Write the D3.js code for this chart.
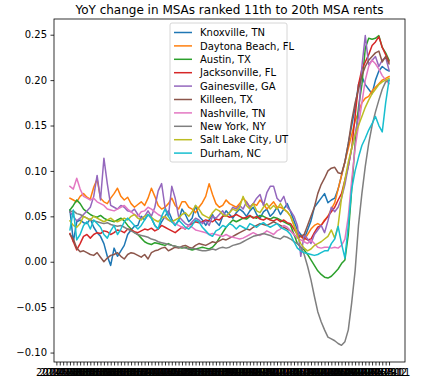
<!DOCTYPE html>
<html>
<head>
<meta charset="utf-8">
<script src="https://cdn.jsdelivr.net/npm/d3@7"></script>
<style>
  body { margin: 0; background: #fff; }
  text { font-family: "DejaVu Sans", sans-serif; }
</style>
</head>
<body>
<svg id="chart" width="431" height="389"></svg>
<script>
// month categories (first 12 have no YoY value)
var months = d3.timeMonth.range(new Date(2014, 2, 1), new Date(2023, 1, 1)).map(d3.timeFormat("%Y-%m"));
var firstData = 12;

var names = ["Knoxville, TN", "Daytona Beach, FL", "Austin, TX", "Jacksonville, FL", "Gainesville, GA",
  "Killeen, TX", "Nashville, TN", "New York, NY", "Salt Lake City, UT", "Durham, NC"];
var colors = ["#1f77b4", "#ff7f0e", "#2ca02c", "#d62728", "#9467bd", "#8c564b", "#e377c2", "#7f7f7f", "#bcbd22", "#17becf"];
var yTicks = [-0.10, -0.05, 0.00, 0.05, 0.10, 0.15, 0.20, 0.25];

var knoxville = [.057,.022,.044,.046,.043,.042,.047,.038,.032,.028,
  .020,.006,-.004,.015,.006,.012,.018,.030,.035,.039,
  .040,.050,.046,.052,.048,.040,.036,.044,.050,.056,
  .047,.040,.045,.058,.052,.044,.048,.062,.050,.046,
  .040,.046,.052,.044,.040,.050,.056,.052,.048,.054,
  .058,.055,.050,.056,.060,.052,.048,.055,.058,.050,
  .054,.060,.052,.058,.064,.055,.045,.035,
  .030,.025,.035,.045,.060,.065,.070,.075,.065,.068,
  .070,.080,.095,.110,.130,.150,.170,.195,.204,.195,
  .190,.185,.200,.210,.215,.212,.210];
var daytona = [.070,.068,.066,.072,.075,.071,.069,.082,.091,.070,
  .066,.064,.070,.075,.081,.072,.068,.071,.064,.060,
  .063,.066,.062,.070,.081,.072,.062,.058,.060,.064,
  .070,.062,.058,.066,.066,.060,.058,.054,.060,.065,
  .072,.086,.074,.064,.060,.062,.068,.064,.062,.060,
  .064,.070,.066,.060,.064,.062,.068,.064,.058,.062,
  .066,.060,.060,.058,.055,.050,.040,.031,
  .028,.024,.030,.036,.040,.042,.040,.046,.050,.058,
  .065,.080,.095,.110,.125,.140,.155,.165,.175,.180,
  .182,.188,.192,.196,.200,.202,.204];
var austin = [.057,.062,.068,.064,.058,.055,.052,.050,.049,.051,
  .048,.046,.045,.044,.046,.048,.045,.040,.036,.032,
  .030,.026,.022,.020,.019,.021,.020,.019,.018,.020,
  .018,.017,.016,.015,.016,.014,.013,.014,.015,.016,
  .015,.014,.016,.020,.026,.032,.038,.042,.046,.044,
  .046,.048,.047,.050,.049,.048,.051,.050,.048,.047,
  .049,.048,.046,.044,.042,.040,.030,.020,
  .016,.013,.008,.002,-.004,-.010,-.014,-.017,-.018,-.016,
  -.012,-.008,-.002,.002,.030,.080,.130,.170,.195,.235,
  .246,.245,.246,.249,.236,.230,.222];
var jacksonville = [.031,.022,.013,.020,.028,.030,.026,.030,.032,.031,
  .034,.033,.030,.032,.035,.034,.032,.036,.035,.033,
  .032,.034,.036,.035,.037,.034,.036,.040,.038,.036,
  .034,.032,.035,.038,.036,.040,.042,.044,.043,.044,
  .046,.045,.044,.047,.046,.050,.051,.049,.050,.052,
  .050,.048,.049,.051,.048,.050,.047,.046,.048,.046,
  .045,.047,.044,.046,.043,.042,.036,.030,
  .028,.026,.024,.025,.032,.038,.040,.045,.050,.055,
  .060,.068,.075,.090,.105,.125,.160,.195,.212,.220,
  .228,.238,.242,.248,.236,.228,.220];
var gainesville = [.055,.050,.045,.048,.052,.056,.060,.072,.095,.068,
  .114,.086,.062,.060,.058,.062,.060,.056,.055,.058,
  .052,.048,.050,.056,.050,.060,.078,.086,.060,.050,
  .083,.070,.050,.046,.042,.040,.044,.048,.046,.042,
  .045,.040,.050,.048,.052,.056,.050,.054,.060,.058,
  .062,.058,.066,.060,.064,.070,.074,.062,.076,.083,
  .083,.070,.066,.072,.060,.056,.050,.040,
  .006,.030,.025,.020,.030,.035,.040,.032,.045,.060,
  .055,.060,.070,.085,.105,.125,.140,.160,.215,.249,
  .217,.222,.226,.215,.222,.225,.211];
var killeen = [.030,.025,.015,.011,.012,.010,.008,.007,.010,.005,
  .000,.004,.007,.008,.010,.006,.003,.008,.010,.009,
  .007,.005,.008,.003,.010,.012,.013,.015,.016,.012,
  .014,.016,.015,.017,.018,.016,.015,.018,.020,.019,
  .018,.020,.022,.021,.023,.025,.024,.026,.028,.030,
  .032,.034,.036,.035,.038,.040,.042,.041,.040,.042,
  .044,.042,.040,.038,.036,.034,.030,.026,
  .028,.030,.040,.050,.060,.075,.085,.092,.100,.103,
  .104,.098,.097,.110,.130,.155,.175,.190,.205,.215,
  .222,.226,.230,.232,.220,.226,.218];
var nashville = [.083,.080,.092,.080,.072,.070,.068,.070,.066,.064,
  .062,.058,.057,.056,.058,.060,.062,.058,.055,.052,
  .050,.055,.056,.060,.058,.055,.052,.050,.048,.046,
  .044,.042,.040,.038,.036,.040,.038,.035,.034,.033,
  .032,.030,.031,.030,.029,.028,.030,.028,.027,.026,
  .025,.026,.028,.030,.032,.030,.029,.031,.034,.032,
  .030,.034,.036,.040,.038,.034,.030,.026,
  .024,.022,.020,.024,.020,.016,.015,.016,.016,.015,
  .016,.015,.018,.025,.050,.090,.125,.150,.175,.200,
  .215,.222,.218,.212,.205,.200,.196];
var newYork = [.055,.056,.053,.052,.050,.048,.046,.045,.044,.043,
  .042,.043,.041,.040,.039,.040,.038,.036,.034,.032,
  .030,.029,.028,.027,.025,.024,.022,.021,.020,.019,
  .018,.017,.016,.016,.015,.014,.015,.014,.013,.012,
  .012,.013,.014,.013,.015,.016,.015,.016,.018,.019,
  .020,.022,.024,.026,.028,.029,.030,.031,.030,.029,
  .027,.026,.025,.028,.027,.025,.022,.020,
  .016,.008,-.005,-.020,-.038,-.055,-.066,-.075,-.083,-.085,
  -.087,-.090,-.092,-.088,-.075,-.045,-.010,.040,.075,.105,
  .130,.150,.165,.178,.190,.198,.200];
var saltLake = [.045,.040,.038,.042,.050,.048,.046,.050,.048,.046,
  .044,.046,.048,.045,.044,.046,.048,.046,.050,.052,
  .048,.046,.050,.052,.049,.046,.044,.048,.050,.046,
  .044,.046,.048,.052,.054,.050,.055,.062,.058,.052,
  .050,.048,.054,.058,.056,.052,.050,.054,.058,.056,
  .060,.072,.062,.058,.064,.056,.054,.060,.064,.058,
  .062,.058,.064,.058,.055,.050,.040,.028,
  .020,.015,.012,.014,.018,.020,.022,.025,.028,.035,
  .026,.040,.070,.090,.110,.125,.140,.150,.160,.170,
  .178,.185,.190,.195,.198,.200,.202];
var durham = [.035,.057,.024,.030,.040,.044,.036,.046,.042,.038,
  .030,.026,.034,.040,.030,.036,.044,.048,.044,.040,
  .036,.040,.046,.052,.048,.040,.036,.050,.058,.050,
  .044,.040,.046,.042,.038,.036,.040,.046,.044,.038,
  .034,.030,.028,.034,.036,.040,.038,.042,.040,.036,
  .040,.038,.036,.042,.040,.038,.041,.043,.040,.038,
  .040,.042,.038,.036,.034,.030,.022,.015,
  .012,.010,.009,.008,.007,.008,.010,.012,.012,.020,
  .025,.039,.020,.004,.040,.080,.100,.115,.128,.136,
  .145,.152,.160,.150,.143,.175,.200];

var seriesValues = [knoxville, daytona, austin, jacksonville, gainesville,
  killeen, nashville, newYork, saltLake, durham];

var svg = d3.select("#chart"),
    margin = {top: 19, right: 26, bottom: 27, left: 54},
    width = +svg.attr("width") - margin.left - margin.right,
    height = +svg.attr("height") - margin.top - margin.bottom;

//x on category index, 5% padding around data like matplotlib
var n = knoxville.length;
var lo = firstData, hi = firstData + n - 1;
var pad = (hi - lo) * 0.05;
var x = d3.scaleLinear().domain([lo - pad, hi + pad]).range([0, width]);
var y = d3.scaleLinear().domain([-0.1104, 0.2673]).range([height, 0]);

var g = svg.append("g").attr("transform", "translate(" + margin.left + "," + margin.top + ")");

svg.append("defs").append("clipPath").attr("id", "clip")
  .append("rect").attr("width", width).attr("height", height);

//lines
var line = d3.line()
  .x(function(d, i) { return x(firstData + i); })
  .y(function(d) { return y(d); });

g.append("g").attr("clip-path", "url(#clip)")
  .selectAll("path").data(seriesValues).enter().append("path")
  .attr("d", line)
  .attr("fill", "none")
  .attr("stroke", function(d, i) { return colors[i]; })
  .attr("stroke-width", 1.5)
  .attr("stroke-linejoin", "round")
  .attr("stroke-linecap", "square");

//x axis: one tick per month that is inside the view
var tickIdx = d3.range(months.length).filter(function(i) { return i >= x.domain()[0] && i <= x.domain()[1]; });
var xAxis = d3.axisBottom(x).tickValues(tickIdx)
  .tickFormat(function(i) { return months[i]; })
  .tickSize(3.5).tickSizeOuter(0).tickPadding(3.5);
var gx = g.append("g").attr("transform", "translate(0," + height + ")").call(xAxis);

var yAxis = d3.axisLeft(y).tickValues(yTicks)
  .tickFormat(function(v) { return d3.format(".2f")(v).replace("-", "\u2212"); })
  .tickSize(3.5).tickSizeOuter(0).tickPadding(3.5);
var gy = g.append("g").call(yAxis);

[gx, gy].forEach(function(a) {
  a.select(".domain").remove();
  a.selectAll("line").attr("stroke", "#000").attr("stroke-width", 0.8);
  a.selectAll("text").attr("font-size", "10px").attr("fill", "#000")
    .style("font-family", "'DejaVu Sans', sans-serif");
});

//frame
g.append("rect").attr("width", width).attr("height", height)
  .attr("fill", "none").attr("stroke", "#000").attr("stroke-width", 0.8);

//title
svg.append("text")
  .attr("x", margin.left + width / 2).attr("y", 14)
  .attr("text-anchor", "middle").attr("font-size", "12px")
  .text("YoY change in MSAs ranked 11th to 20th MSA rents");

//legend
var legend = svg.append("g").attr("transform", "translate(170,23)");
legend.append("rect").attr("width", 117).attr("height", 139).attr("rx", 2)
  .attr("fill", "#fff").attr("fill-opacity", 0.8)
  .attr("stroke", "#ccc").attr("stroke-width", 0.8);
var items = legend.selectAll("g.item").data(names).enter().append("g")
  .attr("class", "item")
  .attr("transform", function(d, i) { return "translate(0," + (9.5 + i * 13.4) + ")"; });
items.append("line").attr("x1", 4).attr("x2", 22)
  .attr("stroke", function(d, i) { return colors[i]; }).attr("stroke-width", 1.5);
items.append("text").attr("x", 30).attr("y", 3.6)
  .attr("font-size", "10px").text(function(d) { return d; });
</script>
</body>
</html>
